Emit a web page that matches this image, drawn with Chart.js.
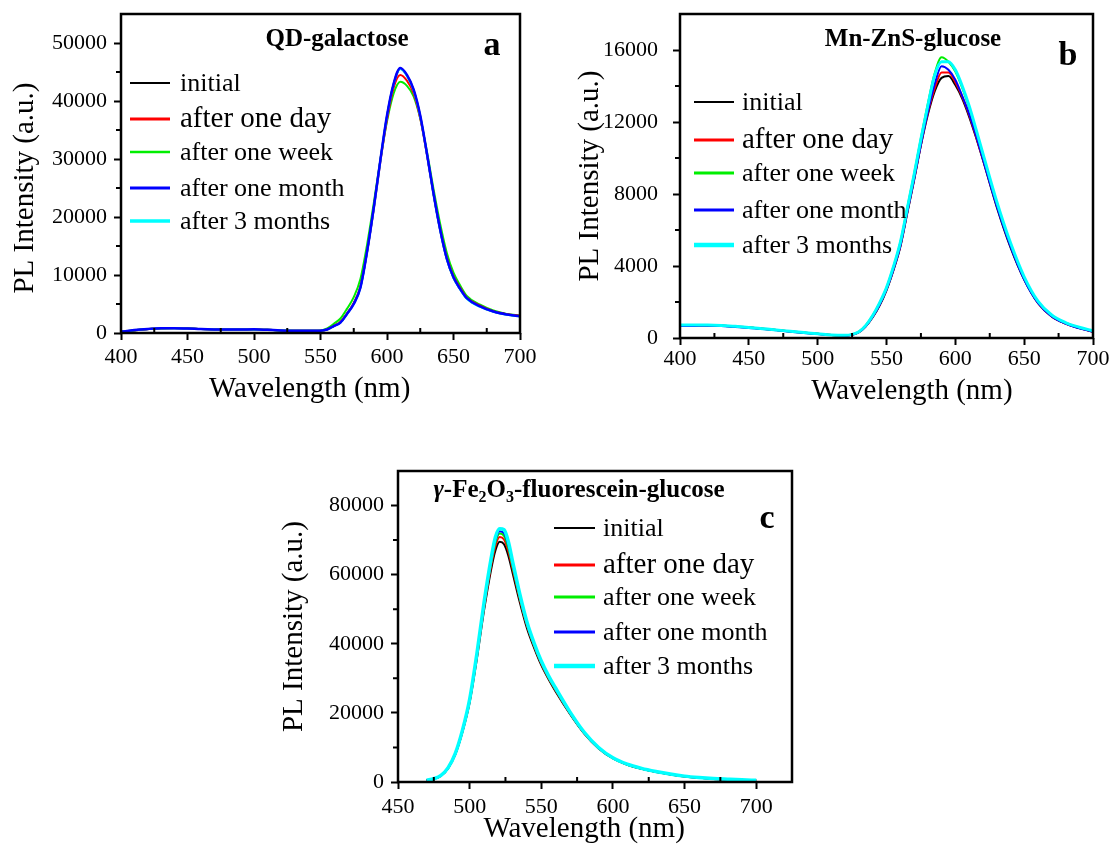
<!DOCTYPE html>
<html>
<head>
<meta charset="utf-8">
<script src="https://cdn.jsdelivr.net/npm/chart.js@4.4.0/dist/chart.umd.min.js"></script>
<style>
body{margin:0;background:#fff;width:1118px;height:850px;position:relative;overflow:hidden}
canvas{position:absolute}
</style>
</head>
<body>
<canvas id="ga" width="555" height="410" style="left:0;top:0"></canvas>
<canvas id="gb" width="558" height="415" style="left:560px;top:0"></canvas>
<canvas id="gc" width="560" height="400" style="left:270px;top:450px"></canvas>
<script>
const names=["initial","after one day","after one week","after one month","after 3 months"];
const colors=["#000000","#ff0000","#00ee00","#0000ff","#00ffff"];

// tick labels
const xTicksAB=[400,450,500,550,600,650,700];
const xTicksC=[450,500,550,600,650,700];
const yTicksA=[0,10000,20000,30000,40000,50000];
const yTicksB=[0,4000,8000,12000,16000];
const yTicksC=[0,20000,40000,60000,80000];

// (a) QD-galactose
const wlA=[400,410,420,430,440,450,460,470,480,490,500,510,520,530,540,550,555,560,565,570,575,580,585,590,595,600,605,610,615,620,625,630,635,640,645,650,655,660,670,680,690,700];
const aInitial=[200,450,650,800,850,820,700,620,600,600,620,550,450,400,380,400,600,1200,1850,3350,5100,7900,14000,21500,29800,37400,42900,45600,44400,41900,37400,30900,23900,17700,12700,9500,7600,6000,4600,3700,3200,2900];
const aDay=[200,480,680,800,820,780,680,620,600,600,630,550,450,400,380,400,620,1250,1950,3400,5200,8000,14000,21300,29500,36800,42300,44500,43500,41300,37000,30800,24000,17900,13000,9800,7800,6100,4700,3750,3250,2950];
const aWeek=[200,470,670,790,810,770,670,610,590,590,620,540,450,400,380,450,800,1600,2500,4200,6200,9300,15200,22300,29800,36500,41300,43300,42600,40800,37000,31300,24800,18800,13800,10400,8200,6400,4900,3900,3300,3000];
const aMonth=[200,500,700,820,830,780,680,620,600,600,630,550,450,400,380,400,600,1200,1800,3300,5000,7800,14000,21500,29800,37500,43000,45700,44500,42000,37500,31000,24000,17800,12800,9600,7600,6000,4600,3700,3200,2900];
const a3m=[200,490,690,810,820,770,670,610,590,590,620,540,450,400,380,400,600,1200,1800,3300,5000,7800,14000,21400,29700,37400,42900,45500,44300,41800,37300,30900,23900,17700,12700,9500,7500,5900,4500,3650,3150,2850];

// (b) Mn-ZnS-glucose
const wlB=[400,410,420,430,440,450,460,470,480,490,500,510,520,525,530,535,540,545,550,555,560,565,570,575,580,585,590,595,600,605,610,615,620,630,640,650,660,670,680,690,700];
const bInitial=[680,700,710,690,640,590,520,450,370,300,240,170,140,180,320,650,1150,1800,2650,3750,5050,6900,8750,10700,12400,13700,14450,14550,14050,13300,12300,11150,9900,7300,5050,3250,1950,1200,800,550,350];
const bDay=[690,700,700,680,630,580,510,440,360,290,230,170,140,180,320,660,1180,1850,2700,3800,5100,6950,8800,10750,12500,13850,14750,14750,14200,13400,12400,11200,9950,7400,5150,3300,1950,1200,800,550,360];
const bWeek=[700,710,700,680,630,580,510,440,360,290,230,170,140,200,360,720,1260,1950,2800,3950,5300,7200,9100,11100,13000,14700,15600,15350,14800,13900,12800,11550,10200,7550,5250,3350,2000,1250,850,580,380];
const bMonth=[660,670,680,660,610,560,500,430,350,280,220,160,130,180,320,660,1180,1850,2700,3800,5100,6950,8800,10750,12550,14100,15100,14900,14350,13450,12450,11250,9950,7350,5100,3250,1950,1200,800,540,350];
const b3m=[720,720,720,700,650,590,520,450,370,300,240,170,150,200,350,700,1250,1950,2800,3950,5300,7150,9050,11050,12900,14600,15350,15350,14900,14000,12900,11600,10250,7600,5300,3400,2050,1280,860,600,400];

// (c) γ-Fe2O3-fluorescein-glucose
const wlC=[470,475,480,485,490,495,500,505,510,515,518,521,524,527,530,535,540,545,550,555,560,570,580,590,600,610,620,630,640,650,660,670,680,690,700];
const cInitial=[500,900,1800,4000,8000,14500,23000,35500,49500,61500,67000,69500,68800,65500,60500,52000,44500,38800,33800,29800,26200,19700,14000,9700,6800,5000,3800,2900,2200,1600,1200,900,700,550,450];
const cDay=[500,900,1800,4000,8100,14700,23300,36000,50200,62500,68300,70900,70200,66800,61600,52900,45200,39300,34200,30100,26500,19900,14100,9800,6900,5050,3850,2950,2250,1650,1250,950,750,600,480];
const cWeek=[500,900,1850,4100,8200,14900,23600,36500,50900,63400,69300,71900,71200,67700,62300,53400,45600,39600,34500,30300,26700,20000,14200,9850,6900,5050,3850,2950,2250,1650,1250,950,750,600,480];
const cMonth=[500,900,1850,4100,8200,14900,23700,36700,51300,64000,70000,72600,72000,68500,63000,53900,45900,39900,34700,30500,26900,20100,14300,9900,6950,5100,3900,3000,2250,1650,1250,950,750,600,480];
const c3m=[550,950,1900,4150,8300,15000,23900,37000,51800,64700,70900,73300,73000,69600,63800,54400,46300,40200,35000,30800,27200,20300,14400,10000,7000,5150,3950,3050,2300,1700,1300,1000,800,620,500];

Chart.defaults.font.family='"Liberation Serif","Times New Roman",serif';
Chart.defaults.color="#000";
const serif='"Liberation Serif","Times New Roman",serif';

function lines(wl,series,widths,orders){
  return series.map((s,i)=>({
    label:names[i],
    data:wl.map((w,j)=>({x:w,y:s[j]})),
    borderColor:colors[i],
    backgroundColor:colors[i],
    borderWidth:widths[i],
    order:orders[i],
    pointRadius:0,
    fill:false,
    cubicInterpolationMode:"monotone"
  }));
}

function axes(c){
  return {
    x:{
      type:"linear",min:c.xmin,max:c.xmax,
      afterBuildTicks:s=>{s.ticks=c.xt.map(v=>({value:v}))},
      afterFit:s=>{s.height=c.xh},
      ticks:{padding:c.xpad,font:{size:22},maxRotation:0,autoSkip:false,callback:v=>String(v)},
      grid:{drawOnChartArea:false,tickLength:7,tickWidth:2,tickColor:"#000"},
      border:{display:false},
      title:{display:true,text:c.xtitle,font:{size:29},padding:{top:0,bottom:c.xtp}}
    },
    y:{
      type:"linear",min:0,max:c.ymax,
      afterBuildTicks:s=>{s.ticks=c.yt.map(v=>({value:v}))},
      afterFit:s=>{s.width=c.yw;s.paddingTop=0;s.paddingBottom=0},
      ticks:{padding:c.ypad,font:{size:22},autoSkip:false,callback:v=>String(v)},
      grid:{drawOnChartArea:false,tickLength:7,tickWidth:2,tickColor:"#000"},
      border:{display:false},
      title:{display:true,text:c.ytitle,font:{size:29},padding:{top:c.ytp,bottom:0}}
    }
  };
}

// box, minor ticks, panel title, letter and legend
function annot(c){
  return {
    id:"annot",
    afterDraw(chart){
      const ctx=chart.ctx, ca=chart.chartArea;
      const xs=chart.scales.x, ys=chart.scales.y;
      ctx.save();
      ctx.strokeStyle="#000";
      ctx.lineWidth=2;
      ctx.beginPath();
      for(let v=xs.min+c.minorX; v<xs.max; v+=c.minorX){
        if(v%(2*c.minorX)===0) continue;
        const p=xs.getPixelForValue(v);
        ctx.moveTo(p,ca.bottom); ctx.lineTo(p,ca.bottom-5);
      }
      for(let v=c.minorY; v<ys.max; v+=c.minorY){
        if(v%(2*c.minorY)===0) continue;
        const p=ys.getPixelForValue(v);
        ctx.moveTo(ca.left,p); ctx.lineTo(ca.left-5,p);
      }
      ctx.stroke();
      ctx.lineWidth=2.5;
      ctx.strokeRect(ca.left,ca.top,ca.right-ca.left,ca.bottom-ca.top);

      // panel title
      ctx.fillStyle="#000";
      ctx.textBaseline="alphabetic";
      ctx.textAlign="left";
      const fontOf=p=>(p.it?"italic ":"")+"bold "+(p.sub?Math.round(c.tsize*0.62):c.tsize)+"px "+serif;
      let tw=0;
      c.title.forEach(p=>{ctx.font=fontOf(p);tw+=ctx.measureText(p.t).width});
      let tx=c.tx-tw/2;
      c.title.forEach(p=>{
        ctx.font=fontOf(p);
        ctx.fillText(p.t,tx,c.ty+(p.sub?5:0));
        tx+=ctx.measureText(p.t).width;
      });

      // letter
      ctx.textAlign="center";
      ctx.font="bold 34px "+serif;
      ctx.fillText(c.letter,c.lx,c.ly);

      // legend
      ctx.textAlign="left";
      chart.data.datasets.forEach((ds,i)=>{
        const y=c.rows[i];
        ctx.strokeStyle=ds.borderColor;
        ctx.lineWidth=c.lw[i];
        ctx.beginPath();
        ctx.moveTo(c.lineX,y); ctx.lineTo(c.lineX+c.lineLen,y);
        ctx.stroke();
        ctx.font=c.fs[i]+"px "+serif;
        ctx.fillText(ds.label,c.textX,y+8);
      });
      ctx.restore();
    }
  };
}

function make(id,datasets,ax,pad,an){
  new Chart(document.getElementById(id),{
    type:"line",
    data:{datasets:datasets},
    options:{
      responsive:false,
      animation:false,
      layout:{padding:pad},
      scales:axes(ax),
      plugins:{legend:{display:false},tooltip:{enabled:false}}
    },
    plugins:[annot(an)]
  });
}

const legendSizes=[26,29,26,26,26];

make("ga",
  lines(wlA,[aInitial,aDay,aWeek,aMonth,a3m],[2,2,2,2.5,2],[3,2,4,0,1]),
  {xmin:400,xmax:700,xt:xTicksAB,xh:77,xpad:4,xtp:3,xtitle:"Wavelength (nm)   ",
   ymax:55000,yt:yTicksA,yw:121,ypad:7,ytp:8,ytitle:"PL Intensity (a.u.)    "},
  {left:0,top:14,right:35,bottom:0},
  {minorX:25,minorY:5000,title:[{t:"QD-galactose"}],tsize:25,tx:337,ty:46,letter:"a",lx:492,ly:55,
   lineX:130,lineLen:40,textX:180,rows:[83,119,152,188,221],lw:[2,3,2.5,3,3.5],fs:legendSizes});

make("gb",
  lines(wlB,[bInitial,bDay,bWeek,bMonth,b3m],[2,2,2,2,3],[4,3,2,1,0]),
  {xmin:400,xmax:700,xt:xTicksAB,xh:77,xpad:1,xtp:6,xtitle:"       Wavelength (nm)",
   ymax:18000,yt:yTicksB,yw:120,ypad:15,ytp:13,ytitle:"PL Intensity (a.u.)"},
  {left:0,top:14,right:25,bottom:0},
  {minorX:25,minorY:2000,title:[{t:"Mn-ZnS-glucose"}],tsize:25,tx:353,ty:46,letter:"b",lx:508,ly:65,
   lineX:134,lineLen:40,textX:182,rows:[102,140,173,210,245],lw:[2,3,3,3,4.5],fs:legendSizes});

make("gc",
  lines(wlC,[cInitial,cDay,cWeek,cMonth,c3m],[2,2,2,2,3.5],[4,3,2,1,0]),
  {xmin:450,xmax:725,xt:xTicksC,xh:68,xpad:5,xtp:3,xtitle:"Wavelength (nm)   ",
   ymax:90000,yt:yTicksC,yw:128,ypad:7,ytp:7,ytitle:"PL Intensity (a.u.)"},
  {left:0,top:21,right:38,bottom:0},
  {minorX:25,minorY:10000,title:[{t:"γ",it:true},{t:"-Fe"},{t:"2",sub:true},{t:"O"},{t:"3",sub:true},{t:"-fluorescein-glucose"}],tsize:25,tx:309,ty:47,letter:"c",lx:497,ly:78,
   lineX:284,lineLen:41,textX:333,rows:[78,115,147,182,216],lw:[2,3,3,3,4.5],fs:legendSizes});
</script>
</body>
</html>
